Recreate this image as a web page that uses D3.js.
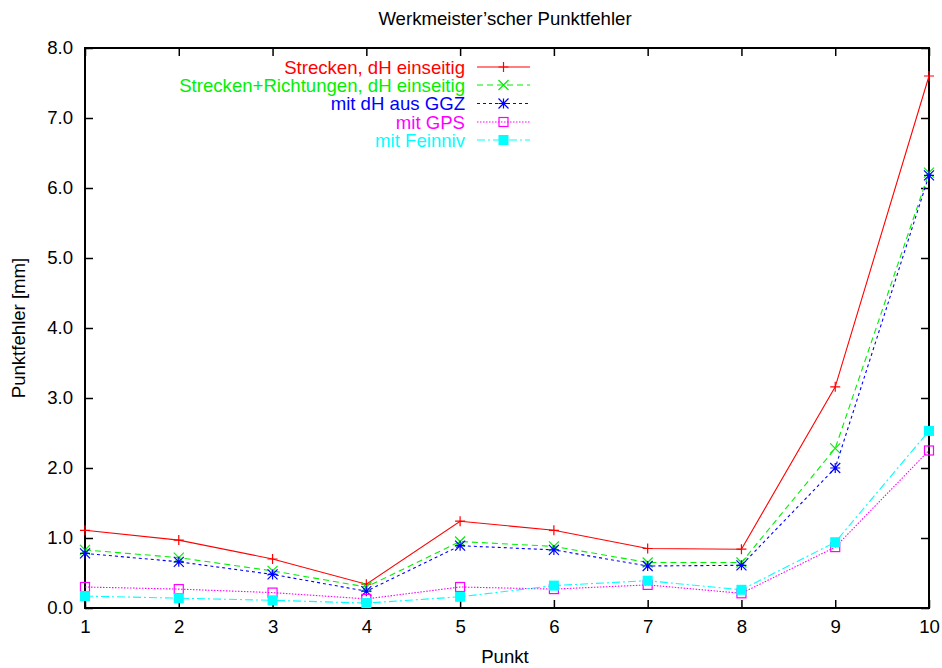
<!DOCTYPE html>
<html>
<head>
<meta charset="utf-8">
<script src="https://cdn.jsdelivr.net/npm/d3@7"></script>
<style>
  html, body { margin: 0; padding: 0; background: #fff; }
  svg text { font-family: "Liberation Sans", Arial, Helvetica, sans-serif; }
</style>
</head>
<body>
<svg id="chart" width="942" height="668"></svg>
<script>
// Measurement points
const punkte = [1, 2, 3, 4, 5, 6, 7, 8, 9, 10];

// Punktfehler [mm] per variant
const strecken        = [1.11, 0.97, 0.70, 0.34, 1.24, 1.11, 0.85, 0.84, 3.16, 7.60];
const streckenRicht   = [0.83, 0.72, 0.53, 0.30, 0.95, 0.88, 0.65, 0.65, 2.28, 6.22];
const dhAusGGZ        = [0.78, 0.66, 0.48, 0.24, 0.89, 0.83, 0.60, 0.61, 2.00, 6.18];
const mitGPS          = [0.30, 0.27, 0.22, 0.13, 0.30, 0.27, 0.33, 0.21, 0.87, 2.25];
const mitFeinniv      = [0.17, 0.14, 0.11, 0.07, 0.16, 0.32, 0.39, 0.26, 0.94, 2.53];

const yTicks = [0, 1, 2, 3, 4, 5, 6, 7, 8];

const series = [
  { name: "Strecken, dH einseitig",               values: strecken,      color: "#ff0000", dash: null,        marker: "plus" },
  { name: "Strecken+Richtungen, dH einseitig",    values: streckenRicht, color: "#00f000", dash: "6,4",       marker: "cross" },
  { name: "mit dH aus GGZ",                       values: dhAusGGZ,      color: "#0000ff", dash: "3,3",       marker: "star" },
  { name: "mit GPS",                              values: mitGPS,        color: "#ff00ff", dash: "1.5,1.5",   marker: "box" },
  { name: "mit Feinniv",                          values: mitFeinniv,    color: "#00ffff", dash: "8,3,2,3",   marker: "boxfilled" }
];

const svg = d3.select("#chart");
const m = { left: 85, right: 13, top: 48, bottom: 60 };
const W = 942, H = 668;
const FS = 18.6;

const x = d3.scaleLinear().domain([1, 10]).range([m.left, W - m.right]);
const y = d3.scaleLinear().domain([0, 8]).range([H - m.bottom, m.top]);

// Title
svg.append("text")
  .attr("x", 505).attr("y", 25)
  .attr("text-anchor", "middle")
  .attr("font-size", FS)
  .text("Werkmeister\u2019scher Punktfehler");

// Axes with inward ticks (mirrored on the opposite side)
const tickLen = 8;
const fmt = d3.format(".1f");

const gBottom = svg.append("g").attr("transform", `translate(0,${y(0)})`)
  .call(d3.axisBottom(x).tickValues(punkte).tickSize(-tickLen).tickPadding(12).tickFormat(d3.format("d")));
const gTop = svg.append("g").attr("transform", `translate(0,${y(8)})`)
  .call(d3.axisTop(x).tickValues(punkte).tickSize(-tickLen).tickFormat(""));
const gLeft = svg.append("g").attr("transform", `translate(${x(1)},0)`)
  .call(d3.axisLeft(y).tickValues(yTicks).tickSize(-tickLen).tickPadding(12).tickFormat(fmt));
const gRight = svg.append("g").attr("transform", `translate(${x(10)},0)`)
  .call(d3.axisRight(y).tickValues(yTicks).tickSize(-tickLen).tickFormat(""));

[gBottom, gTop, gLeft, gRight].forEach(g => {
  g.select(".domain").remove();
  g.selectAll(".tick line").attr("stroke", "#000").attr("stroke-width", 1.5);
  g.selectAll(".tick text").attr("font-size", FS).attr("fill", "#000")
    .attr("font-family", "'Liberation Sans', Arial, sans-serif");
});

// Plot border
svg.append("rect")
  .attr("x", x(1)).attr("y", y(8))
  .attr("width", x(10) - x(1)).attr("height", y(0) - y(8))
  .attr("fill", "none").attr("stroke", "#000").attr("stroke-width", 2);

// Axis labels
svg.append("text")
  .attr("x", 505).attr("y", 663)
  .attr("text-anchor", "middle").attr("font-size", FS)
  .text("Punkt");
svg.append("text")
  .attr("transform", `translate(25,${(y(0) + y(8)) / 2}) rotate(-90)`)
  .attr("text-anchor", "middle").attr("font-size", FS)
  .text("Punktfehler [mm]");

// Point symbols
function drawMarker(g, cx, cy, type, color) {
  const s = 5;
  if (type === "plus") {
    g.append("path").attr("d", `M${cx - s},${cy}H${cx + s}M${cx},${cy - s}V${cy + s}`)
      .attr("stroke", color).attr("stroke-width", 1.2).attr("fill", "none");
  } else if (type === "cross") {
    g.append("path").attr("d", `M${cx - s},${cy - s}L${cx + s},${cy + s}M${cx - s},${cy + s}L${cx + s},${cy - s}`)
      .attr("stroke", color).attr("stroke-width", 1.2).attr("fill", "none");
  } else if (type === "star") {
    g.append("path").attr("d",
      `M${cx - s},${cy}H${cx + s}M${cx},${cy - s}V${cy + s}` +
      `M${cx - s},${cy - s}L${cx + s},${cy + s}M${cx - s},${cy + s}L${cx + s},${cy - s}`)
      .attr("stroke", color).attr("stroke-width", 1.2).attr("fill", "none");
  } else if (type === "box") {
    g.append("rect").attr("x", cx - 4.5).attr("y", cy - 4.5).attr("width", 9).attr("height", 9)
      .attr("stroke", color).attr("stroke-width", 1.2).attr("fill", "none");
  } else if (type === "boxfilled") {
    g.append("rect").attr("x", cx - 5).attr("y", cy - 5).attr("width", 10).attr("height", 10)
      .attr("fill", color).attr("stroke", "none");
  }
}

const line = d3.line().x((d, i) => x(punkte[i])).y(d => y(d));

const plot = svg.append("g");
series.forEach(s => {
  plot.append("path")
    .datum(s.values)
    .attr("d", line)
    .attr("fill", "none")
    .attr("stroke", s.color)
    .attr("stroke-width", 1.1)
    .attr("stroke-dasharray", s.dash);
  const mg = plot.append("g");
  s.values.forEach((v, i) => drawMarker(mg, x(punkte[i]), y(v), s.marker, s.color));
});

// Legend
const legend = svg.append("g");
const legRowY = [67, 85, 103.5, 122, 140];
series.forEach((s, i) => {
  const ly = legRowY[i];
  legend.append("text")
    .attr("x", 465).attr("y", ly + 6.5)
    .attr("text-anchor", "end").attr("font-size", FS)
    .attr("fill", s.color)
    .text(s.name);
  legend.append("line")
    .attr("x1", 477).attr("x2", 530).attr("y1", ly).attr("y2", ly)
    .attr("stroke", s.color).attr("stroke-width", 1.1)
    .attr("stroke-dasharray", s.dash);
  drawMarker(legend, 503.5, ly, s.marker, s.color);
});
</script>
</body>
</html>
